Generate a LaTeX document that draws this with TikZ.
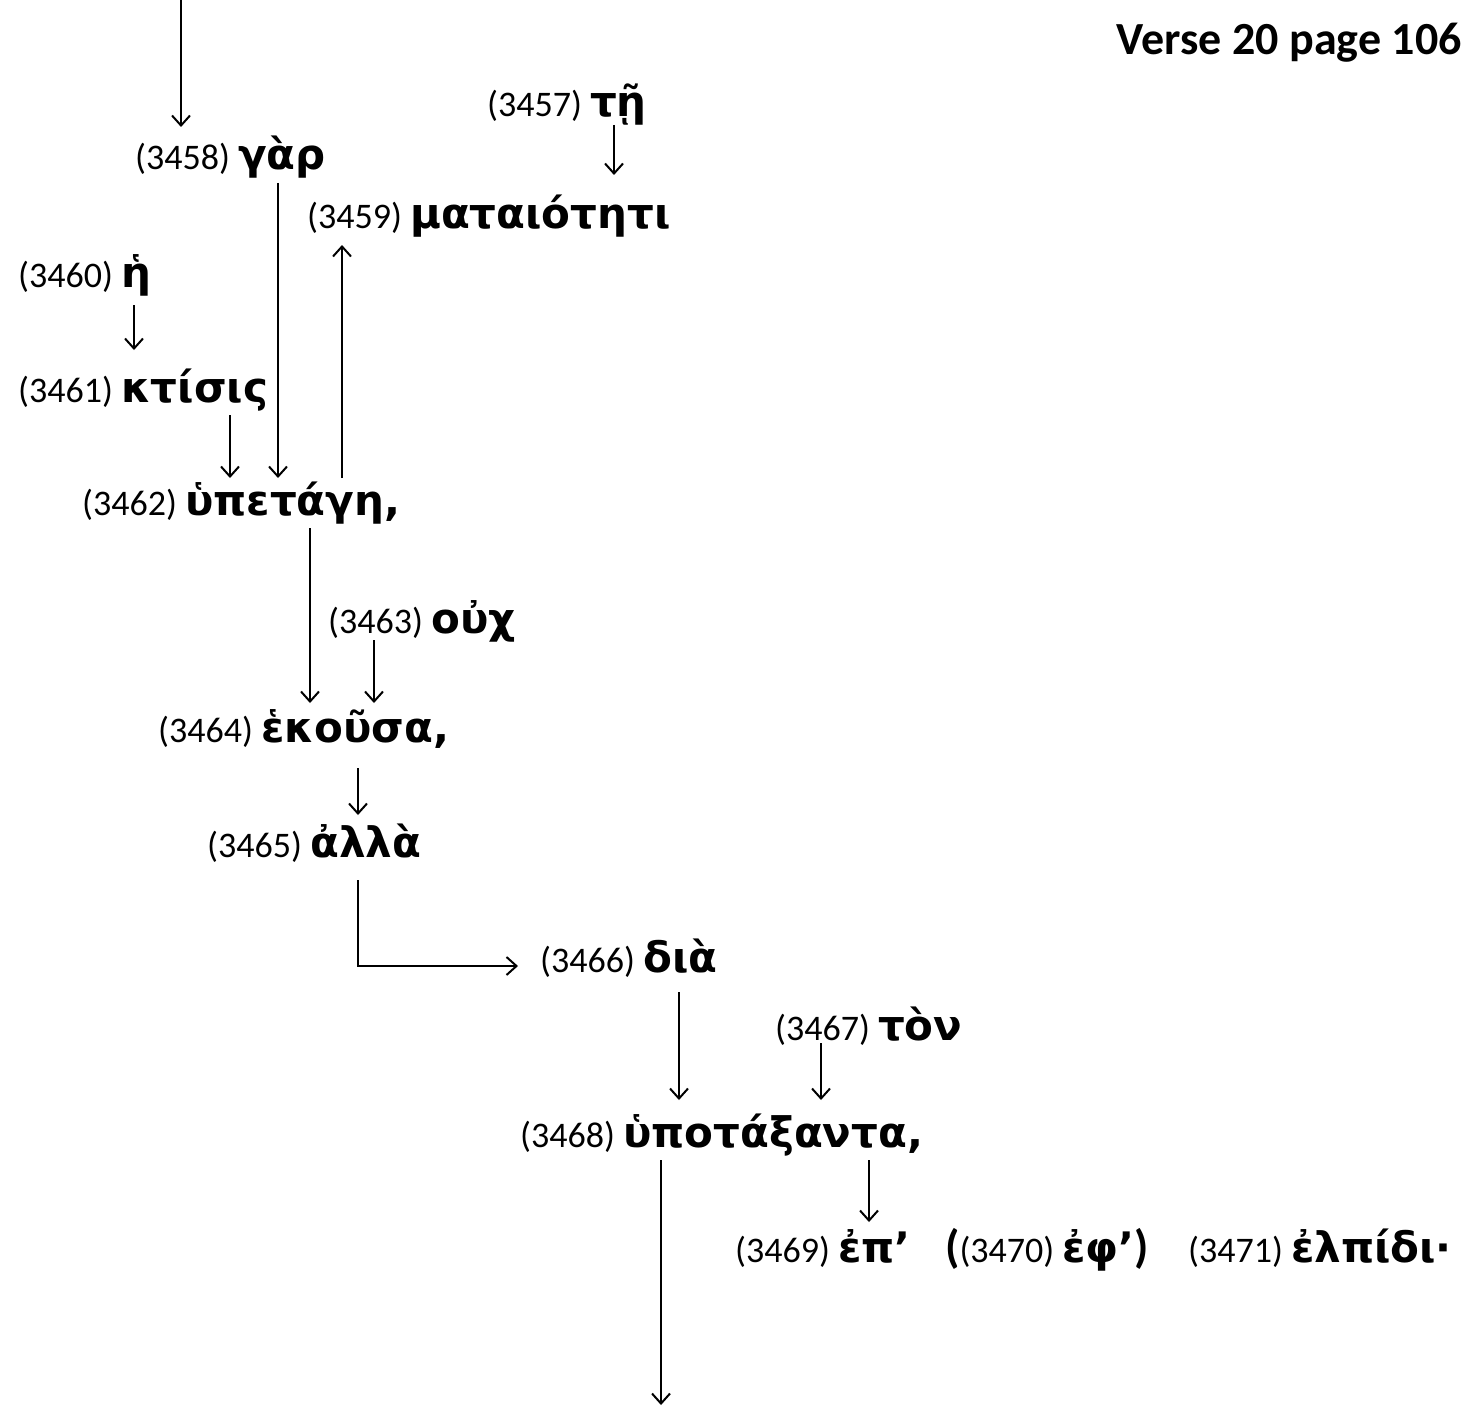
\documentclass[tikz,border=0pt]{standalone}
\usepackage{fontspec}
\usetikzlibrary{arrows.meta}
\newfontfamily\numf{Carlito}
\newfontfamily\gkf{DejaVu Sans}
\newcommand{\nm}[1]{{\numf\fontsize{36}{42}\selectfont #1}}
\newcommand{\gk}[1]{{\gkf\bfseries\fontsize{42}{48}\selectfont #1}}
\newcommand{\bp}[1]{{\numf\bfseries\fontsize{46}{52}\selectfont #1}}
\begin{document}
\begin{tikzpicture}[x=1pt,y=-1pt,
  lbl/.style={inner sep=0pt, anchor=base west},
  arr/.style={line width=2pt, -{Straight Barb[length=10pt,width=18pt,line width=2pt]}}]
\useasboundingbox (0,0) rectangle (1466,1407);
\node[inner sep=0pt, anchor=base east] (title) at (1462,55) {\bp{Verse 20 page 106}};
\node[lbl] (n3457) at (487,117) {\nm{(3457) }\gk{τῇ}};
\node[lbl] (n3458) at (135,170) {\nm{(3458) }\gk{γὰρ}};
\node[lbl] (n3459) at (307,228) {\nm{(3459) }\gk{ματαιότητι}};
\node[lbl] (n3460) at (18,287) {\nm{(3460) }\gk{ἡ}};
\node[lbl] (n3461) at (18,402) {\nm{(3461) }\gk{κτίσις}};
\node[lbl] (n3462) at (82,515) {\nm{(3462) }\gk{ὑπετάγη,}};
\node[lbl] (n3463) at (328,633) {\nm{(3463) }\gk{οὐχ}};
\node[lbl] (n3464) at (158,742) {\nm{(3464) }\gk{ἑκοῦσα,}};
\node[lbl] (n3465) at (207,857) {\nm{(3465) }\gk{ἀλλὰ}};
\node[lbl] (n3466) at (540,972) {\nm{(3466) }\gk{διὰ}};
\node[lbl] (n3467) at (775,1040) {\nm{(3467) }\gk{τὸν}};
\node[lbl] (n3468) at (520,1147) {\nm{(3468) }\gk{ὑποτάξαντα,}};
\node[lbl] (n3469) at (735,1262) {\nm{(3469) }\gk{ἐπ’}};
\node[lbl] (n3470) at (945,1262) {\bp{(}\nm{(3470) }\gk{ἐφ’}\bp{)}};
\node[lbl] (n3471) at (1188,1262) {\nm{(3471) }\gk{ἐλπίδι·}};
\coordinate (top) at (181,0);
\coordinate (bot) at (661,1405);
% connectors
\draw[arr, shorten >=43pt] (top) -- (n3458.base -| 181,0);
\draw[arr, shorten <=8pt, shorten >=53pt] (n3457.base -| 614,0) -- (n3459.base -| 614,0);
\draw[arr, shorten <=18pt, shorten >=52pt] (n3460.base -| 134,0) -- (n3461.base -| 134,0);
\draw[arr, shorten <=13pt, shorten >=37pt] (n3461.base -| 230,0) -- (n3462.base -| 230,0);
\draw[arr, shorten <=13pt, shorten >=37pt] (n3458.base -| 278,0) -- (n3462.base -| 278,0);
\draw[arr, shorten <=37pt, shorten >=17pt] (n3462.base -| 342,0) -- (n3459.base -| 342,0);
\draw[arr, shorten <=13pt, shorten >=39pt] (n3462.base -| 310,0) -- (n3464.base -| 310,0);
\draw[arr, shorten <=7pt, shorten >=39pt] (n3463.base -| 374,0) -- (n3464.base -| 374,0);
\draw[arr, shorten <=26pt, shorten >=42pt] (n3464.base -| 358,0) -- (n3465.base -| 358,0);
\draw[arr, shorten <=23pt, shorten >=22pt] (n3465.base -| 358,0) |- ([yshift=6pt]n3466.base west);
\draw[arr, shorten <=20pt, shorten >=47pt] (n3466.base -| 679,0) -- (n3468.base -| 679,0);
\draw[arr, shorten <=3pt, shorten >=47pt] (n3467.base -| 821,0) -- (n3468.base -| 821,0);
\draw[arr, shorten <=13pt, shorten >=40pt] (n3468.base -| 869,0) -- (n3469.base -| 869,0);
\draw[arr, shorten <=13pt] (n3468.base -| 661,0) -- (bot);
\end{tikzpicture}
\end{document}
